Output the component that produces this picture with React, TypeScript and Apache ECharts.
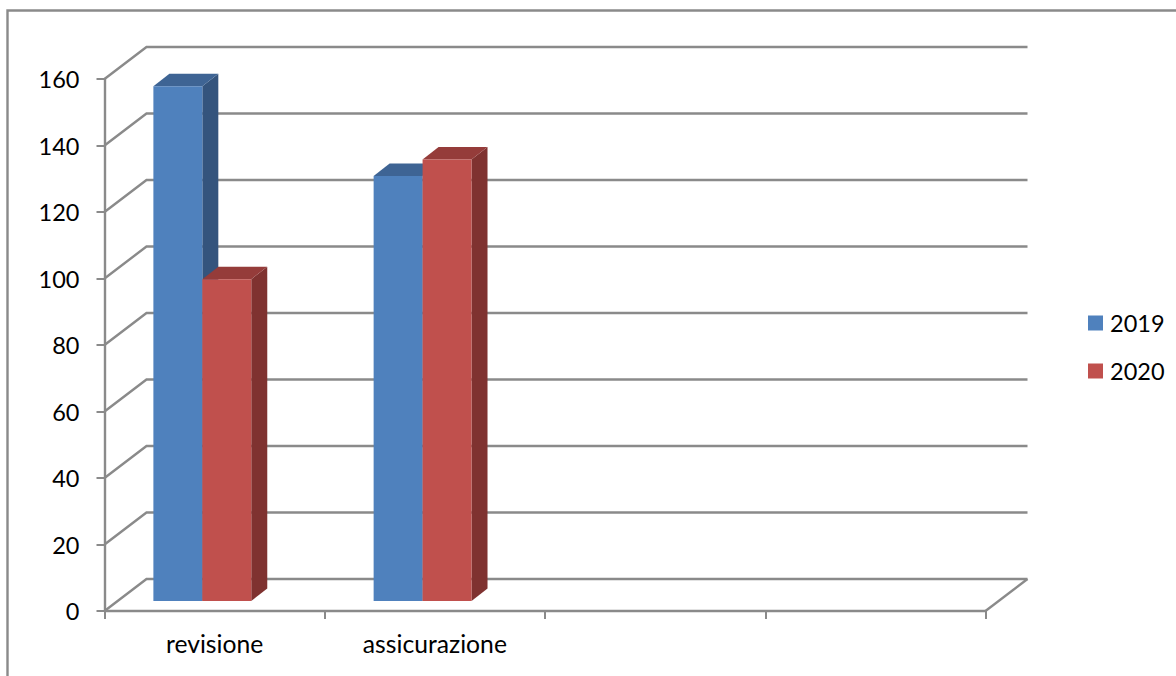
import React, { useEffect, useRef } from "react";
import * as echarts from "echarts";

const categories = ["revisione", "assicurazione", "", ""];
const yTicks = [0, 20, 40, 60, 80, 100, 120, 140, 160];
const seriesNames = ["2019", "2020"];
const values2019 = [155, 128];
const values2020 = [97, 133];

const FONT = "Lato, Carlito, Calibri, sans-serif";
const AXIS = "#8a8a8a";
const LINE_W = 2.4;
const WALL_DX = 42;
const WALL_DY = -32;
const FLOOR_DX = 12.3;
const FLOOR_DY = -10;
const DEPTH_DX = 16;
const DEPTH_DY = -12.5;

const shade = {
  "2019": { front: "#4f81bd", side: "#34547d", top: "#3e6494" },
  "2020": { front: "#c0504d", side: "#7f3230", top: "#953c3a" },
};

function barRenderer(slot: number, c: { front: string; side: string; top: string }) {
  return (_p: any, api: any) => {
    const cat = api.value(0);
    const v = api.value(1);
    const base = api.coord([cat, 0]);
    const topPt = api.coord([cat, v]);
    const band = api.size([1, 0])[0];
    const w = band / 4.5;
    const x0 = base[0] - FLOOR_DX - w + slot * w;
    const x1 = x0 + w;
    const yb = base[1] + FLOOR_DY;
    const yt = topPt[1] + FLOOR_DY + 0.7;
    return {
      type: "group",
      children: [
        {
          type: "polygon",
          shape: { points: [[x1, yb], [x1 + DEPTH_DX, yb + DEPTH_DY], [x1 + DEPTH_DX, yt + DEPTH_DY], [x1, yt]] },
          style: { fill: c.side },
        },
        {
          type: "polygon",
          shape: { points: [[x0, yt], [x0 + DEPTH_DX, yt + DEPTH_DY], [x1 + DEPTH_DX, yt + DEPTH_DY], [x1, yt]] },
          style: { fill: c.top },
        },
        { type: "rect", shape: { x: x0, y: yt, width: w, height: yb - yt }, style: { fill: c.front } },
      ],
    };
  };
}

function wallRenderer(params: any, api: any) {
  const y = api.coord([0, api.value(1)])[1];
  const sys = params.coordSys;
  const left = sys.x;
  const right = sys.x + sys.width;
  const children: any[] = [
    {
      type: "polyline",
      shape: { points: [[left, y], [left + WALL_DX, y + WALL_DY], [right + WALL_DX, y + WALL_DY]] },
      style: { stroke: AXIS, lineWidth: LINE_W, fill: "none" },
    },
  ];
  if (api.value(1) === 0) {
    children.push({
      type: "line",
      shape: { x1: right, y1: y, x2: right + WALL_DX, y2: y + WALL_DY },
      style: { stroke: AXIS, lineWidth: LINE_W },
    });
  }
  return { type: "group", children };
}

export default function App() {
  const ref = useRef<HTMLDivElement>(null);
  useEffect(() => {
    document.body.style.margin = "0";
    const chart = echarts.init(ref.current!, null, { renderer: "svg" });
    chart.setOption({
      animation: false,
      backgroundColor: "#ffffff",
      grid: { left: 104.5, top: 79, width: 881, height: 532 },
      xAxis: {
        type: "category",
        data: categories,
        axisLine: { lineStyle: { color: AXIS, width: LINE_W } },
        axisTick: { show: true, length: 8, alignWithLabel: false, lineStyle: { color: AXIS, width: 2 } },
        axisLabel: { color: "#000", fontFamily: FONT, fontSize: 24.7, margin: 20, interval: 0 },
        splitLine: { show: false },
      },
      yAxis: {
        type: "value",
        min: 0,
        max: 160,
        interval: 20,
        axisLine: { show: true, lineStyle: { color: AXIS, width: LINE_W } },
        axisTick: { show: true, length: 8, lineStyle: { color: AXIS, width: 2 } },
        axisLabel: { color: "#000", fontFamily: FONT, fontSize: 23.5, margin: 25, padding: [3, 0, 0, 0] },
        splitLine: { show: false },
      },
      legend: {
        orient: "vertical",
        left: 1088,
        top: 311,
        padding: 0,
        itemWidth: 15,
        itemHeight: 15,
        itemGap: 24,
        icon: "rect",
        data: seriesNames,
        textStyle: { color: "#000", fontFamily: FONT, fontSize: 23.5, padding: [0, 0, 0, 2] },
      },
      graphic: [
        {
          type: "polyline",
          shape: { points: [[7.5, 676], [7.5, 10.5], [1176, 10.5]] },
          style: { stroke: AXIS, lineWidth: LINE_W, fill: "none" },
        },
      ],
      series: [
        {
          type: "custom",
          name: "griglia",
          z: 1,
          renderItem: wallRenderer,
          data: yTicks.map((t) => [0, t]),
          encode: { x: 0, y: 1 },
        },
        {
          type: "custom",
          name: seriesNames[0],
          z: 2,
          itemStyle: { color: shade["2019"].front },
          renderItem: barRenderer(0, shade["2019"]),
          data: values2019.map((v, i) => [i, v]),
          encode: { x: 0, y: 1 },
        },
        {
          type: "custom",
          name: seriesNames[1],
          z: 3,
          itemStyle: { color: shade["2020"].front },
          renderItem: barRenderer(1, shade["2020"]),
          data: values2020.map((v, i) => [i, v]),
          encode: { x: 0, y: 1 },
        },
      ],
    });
    return () => chart.dispose();
  }, []);
  return <div ref={ref} style={{ position: "fixed", left: 0, top: 0, width: 1176, height: 676 }} />;
}
